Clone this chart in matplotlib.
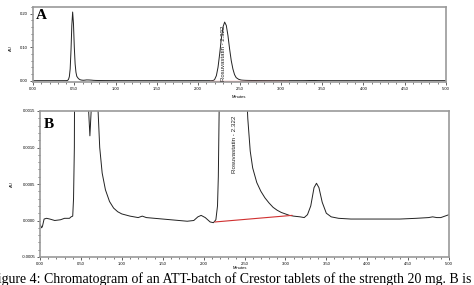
import matplotlib
matplotlib.use('Agg')
import matplotlib.pyplot as plt
from matplotlib.ticker import MultipleLocator, FormatStrFormatter

# Хроматограмма: время (мин) и поглощение (AU)
t = [0.00, 0.02, 0.03, 0.05, 0.08, 0.12, 0.18, 0.25, 0.30, 0.36, 0.38, 0.40,
     0.41, 0.42, 0.43, 0.44, 0.45, 0.46, 0.47, 0.48, 0.49, 0.50, 0.51, 0.52,
     0.53, 0.55, 0.57, 0.59, 0.61, 0.63, 0.65, 0.68, 0.71, 0.73, 0.76, 0.80,
     0.85, 0.90, 0.95, 1.00, 1.10, 1.20, 1.25, 1.30, 1.40, 1.50, 1.60, 1.70,
     1.80, 1.88, 1.93, 1.97, 2.02, 2.08, 2.12, 2.15, 2.17, 2.18, 2.19, 2.20,
     2.22, 2.24, 2.26, 2.28, 2.30, 2.32, 2.34, 2.36, 2.38, 2.40, 2.42, 2.44,
     2.46, 2.49, 2.52, 2.54, 2.57, 2.60, 2.65, 2.70, 2.75, 2.80, 2.85, 2.90,
     2.95, 3.00, 3.05, 3.10, 3.18, 3.23, 3.27, 3.31, 3.35, 3.38, 3.41, 3.45,
     3.50, 3.56, 3.65, 3.80, 4.00, 4.20, 4.40, 4.60, 4.75, 4.80, 4.85, 4.90,
     4.95, 5.00]
au = [-0.00005, -0.00010, -0.00008, 0.00002, 0.00003, 0.00002, 0.00000,
      0.00001, 0.00003, 0.00003, 0.00005, 0.00006,
      0.0003, 0.0010, 0.004, 0.012, 0.035, 0.09, 0.165, 0.205, 0.17, 0.10,
      0.05, 0.025, 0.013, 0.006, 0.0028, 0.0016, 0.00116, 0.0016, 0.0022,
      0.0020, 0.0015, 0.0010, 0.00065, 0.00042, 0.00026, 0.00017, 0.00012,
      0.00009, 0.00006, 0.00004, 0.00006, 0.00004, 0.00003, 0.00002, 0.00001,
      0.00000, -0.00001, 0.00000, 0.00005, 0.00007, 0.00004, -0.00002,
      -0.00003, 0.00001, 0.0002, 0.0006, 0.0015, 0.004, 0.015, 0.04, 0.08,
      0.125, 0.16, 0.175, 0.165, 0.135, 0.095, 0.06, 0.035, 0.018, 0.009,
      0.004, 0.0019, 0.0014, 0.00095, 0.00072, 0.00052, 0.0004, 0.00031,
      0.00024, 0.00018, 0.00014, 0.00011, 0.00009, 0.00007, 0.00006, 0.00005,
      0.00004, 0.00008, 0.0002, 0.00045, 0.00051, 0.00045, 0.00025, 0.0001,
      0.00005, 0.00003, 0.00002, 0.00002, 0.00002, 0.00002, 0.00003, 0.00004,
      0.00005, 0.00004, 0.00004, 0.00006, 0.00008]

# Базовая линия интегрирования пика розувастатина
base_t_a = [2.14, 3.09]
base_au_a = [0.0, 0.0]
base_t_b = [2.14, 3.08]
base_au_b = [-0.00002, 0.00007]

peak_name = 'Rosuvastatin - 2.322'
caption = ('Figure 4: Chromatogram of an ATT-batch of Crestor tablets '
           'of the strength 20 mg. B is a')

W, H = 474, 285
fig = plt.figure(figsize=(W / 100, H / 100), dpi=100)
plt.rcParams['font.family'] = 'Liberation Sans'

def frame(ax, ylim, ymaj, ymin, yfmt):
    ax.set_xlim(0, 5)
    ax.set_ylim(*ylim)
    ax.xaxis.set_major_locator(MultipleLocator(0.5))
    ax.xaxis.set_minor_locator(MultipleLocator(0.1))
    ax.xaxis.set_major_formatter(FormatStrFormatter('%.2f'))
    ax.yaxis.set_major_locator(MultipleLocator(ymaj))
    ax.yaxis.set_minor_locator(MultipleLocator(ymin))
    ax.yaxis.set_major_formatter(FormatStrFormatter(yfmt))
    ax.tick_params(which='major', length=2.5, width=0.6, labelsize=3,
                   pad=1, color='#444444')
    ax.tick_params(which='minor', length=1.5, width=0.5, color='#444444')
    for s in ax.spines.values():
        s.set_color('#9a9a9a')
        s.set_linewidth(1.2)

# Панель A
axA = fig.add_axes([33 / W, 1 - 82 / H, 413 / W, 75 / H])
frame(axA, (-0.004, 0.22), 0.10, 0.02, '%.2f')
axA.plot(t, au, color='#222222', linewidth=0.7)
axA.plot(base_t_a, base_au_a, color='#e8a0a0', linewidth=1.0)
axA.text(2.31, 0.0, peak_name, rotation=90, fontsize=4.3, ha='center',
         va='bottom', color='#222222')
axA.text(0.04, 0.195, 'A', fontsize=11, fontweight='bold',
         family='Liberation Serif', va='center')
fig.text(11 / W, 1 - 48 / H, 'AU', rotation=90, fontsize=3,
         ha='center', va='center')
fig.text(239 / W, 1 - 97 / H, 'Minutes', fontsize=3, ha='center',
         va='center')

# Панель B (увеличенная)
axB = fig.add_axes([40 / W, 1 - 257 / H, 409 / W, 146 / H])
frame(axB, (-0.0005, 0.0015), 0.0005, 0.0001, '%.4f')
axB.plot(t, au, color='#222222', linewidth=0.7)
axB.plot(base_t_b, base_au_b, color='#d03030', linewidth=0.8)
axB.text(2.38, 0.00065, peak_name, rotation=90, fontsize=4.5, ha='center',
         va='bottom', color='#222222')
axB.text(0.05, 0.00132, 'B', fontsize=11, fontweight='bold',
         family='Liberation Serif', va='center')
fig.text(12 / W, 1 - 184 / H, 'AU', rotation=90, fontsize=3,
         ha='center', va='center')
fig.text(240 / W, 1 - 268 / H, 'Minutes', fontsize=3, ha='center',
         va='center')

# Подпись обрезана краями рисунка, как в оригинале
fig.text(-10 / W, 1.5 / H, caption, fontsize=10, family='Liberation Serif',
         ha='left', va='baseline')

fig.savefig('out.png', dpi=100)
